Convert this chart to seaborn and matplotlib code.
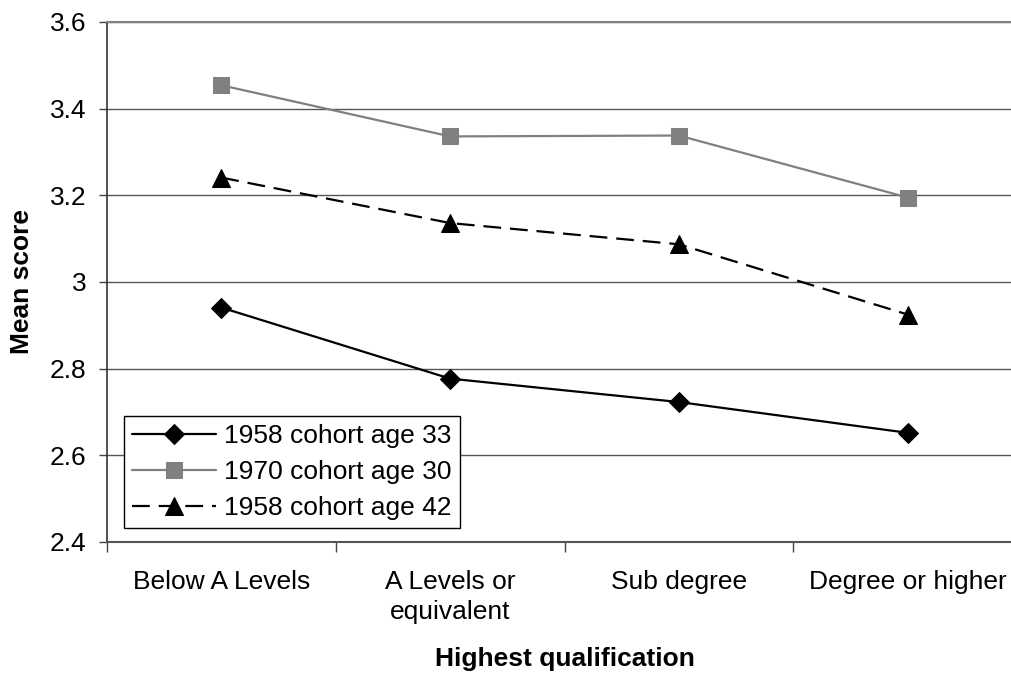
import numpy as np
import pandas as pd
import seaborn as sns
import matplotlib.pyplot as plt

# Qualification groups (x axis) and mean scores per cohort
categories = ["Below A Levels", "A Levels or\nequivalent", "Sub degree", "Degree or higher"]
cohort_1958_age33 = [2.941, 2.777, 2.723, 2.652]
cohort_1970_age30 = [3.454, 3.336, 3.338, 3.195]
cohort_1958_age42 = [3.241, 3.136, 3.087, 2.925]
series_names = ["1958 cohort age 33", "1970 cohort age 30", "1958 cohort age 42"]
y_ticks = [2.4, 2.6, 2.8, 3.0, 3.2, 3.4, 3.6]
y_tick_labels = ["2.4", "2.6", "2.8", "3", "3.2", "3.4", "3.6"]

sns.set_style("white")
plt.rcParams["font.family"] = ["Liberation Sans", "DejaVu Sans"]
plt.rcParams["text.color"] = "black"
plt.rcParams["axes.labelcolor"] = "black"
plt.rcParams["xtick.color"] = "black"
plt.rcParams["ytick.color"] = "black"

FS = 19

fig = plt.figure(figsize=(10.11, 6.75), dpi=100)
# axes runs slightly past the right edge of the canvas
ax = fig.add_axes([107 / 1011, 1 - 542 / 675, 915 / 1011, 520 / 675])

positions = np.arange(len(categories))
frames = []
for name, vals in zip(series_names, [cohort_1958_age33, cohort_1970_age30, cohort_1958_age42]):
    frames.append(pd.DataFrame({"pos": positions, "score": vals, "series": name}))
df = pd.concat(frames, ignore_index=True)

styles = {
    "1958 cohort age 33": dict(color="black", marker="D", ms=10, ls="-"),
    "1970 cohort age 30": dict(color="#808080", marker="s", ms=11, ls="-"),
    "1958 cohort age 42": dict(color="black", marker="^", ms=12.5, ls=(0, (8, 4))),
}

for name in series_names:
    st = styles[name]
    sub = df[df["series"] == name]
    sns.lineplot(data=sub, x="pos", y="score", ax=ax, color=st["color"],
                 marker=st["marker"], markersize=st["ms"], linestyle=st["ls"],
                 linewidth=1.6, markeredgecolor=st["color"], markerfacecolor=st["color"],
                 label=name, zorder=3)

ax.set_xlim(-0.5, len(categories) - 0.5)
ax.set_ylim(2.4, 3.6)
ax.set_yticks(y_ticks)
ax.set_yticklabels(y_tick_labels)
ax.set_xticks(positions)
ax.set_xticklabels(categories, linespacing=1.35)
ax.set_xticks(np.arange(-0.5, len(categories), 1.0), minor=True)

ax.tick_params(axis="x", which="major", length=0, pad=20, labelsize=FS)
ax.tick_params(axis="x", which="minor", length=7, width=1, color="#444444", direction="out", bottom=True)
ax.tick_params(axis="y", which="major", length=6, width=1, color="#444444", direction="out",
               left=True, pad=9, labelsize=FS)

ax.yaxis.grid(True, color="#555555", linewidth=1.0)
ax.xaxis.grid(False)
ax.set_axisbelow(True)

ax.spines["right"].set_visible(False)
ax.spines["top"].set_color("#808080")
ax.spines["top"].set_linewidth(1.5)
ax.spines["left"].set_color("#333333")
ax.spines["left"].set_linewidth(1.2)
ax.spines["bottom"].set_color("#555555")
ax.spines["bottom"].set_linewidth(1.5)

ax.set_xlabel("Highest qualification", fontsize=FS, fontweight="bold", va="center")
ax.set_ylabel("Mean score", fontsize=FS, fontweight="bold", va="center")
ax.xaxis.set_label_coords(0.5, (542 - 659) / 520)
ax.yaxis.set_label_coords((22 - 107) / 915, 0.5)

leg = ax.legend(loc="lower left", bbox_to_anchor=((124 - 107) / 915, (542 - 528) / 520),
                borderaxespad=0, fontsize=FS, frameon=True, fancybox=False, shadow=False,
                handlelength=3.2, handletextpad=0.3, labelspacing=0.45, borderpad=0.3)
leg.get_frame().set_edgecolor("black")
leg.get_frame().set_linewidth(1.0)
leg.get_frame().set_alpha(1.0)

fig.savefig("out.png", dpi=100)
